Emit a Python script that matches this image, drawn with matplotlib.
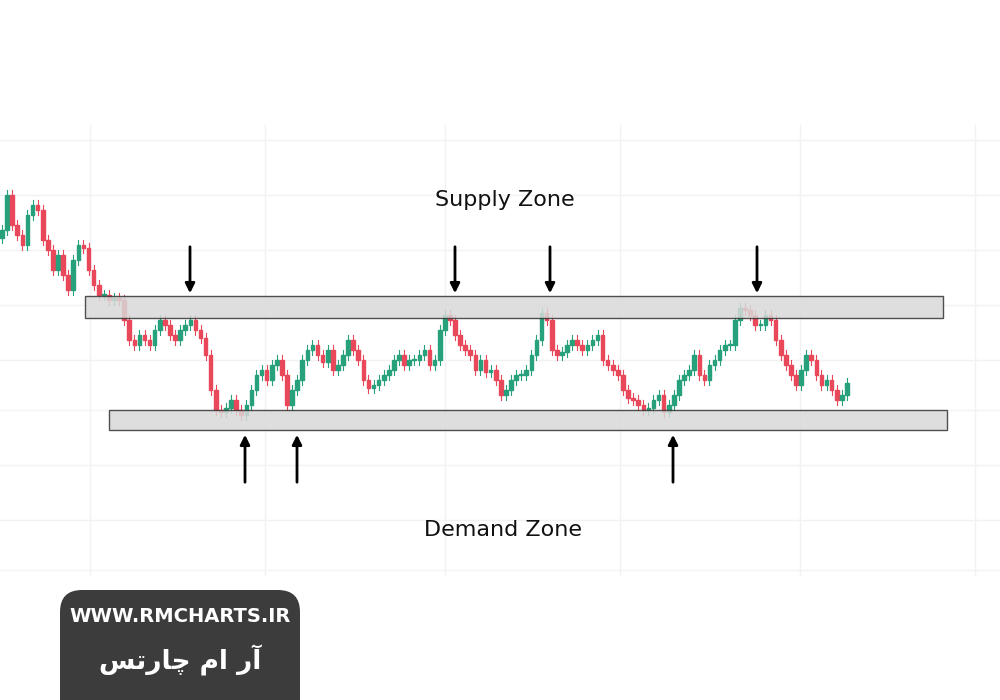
import numpy as np
import matplotlib.pyplot as plt
from matplotlib.patches import Rectangle, FancyBboxPatch

# close prices, one candle per step
closes = [270, 305, 275, 265, 255, 285, 295, 290, 260, 250, 230, 245, 225, 210, 240, 255, 252, 230, 215, 205,
          205, 200, 202, 200, 180, 160, 155, 165, 160, 155, 170, 180, 175, 165, 160, 170, 175, 180, 170, 162,
          145, 110, 90, 88, 92, 100, 90, 85, 95, 110, 125, 130, 120, 135, 140, 125, 95, 110, 120, 140,
          150, 155, 145, 138, 150, 130, 135, 145, 160, 150, 140, 120, 112, 115, 120, 125, 130, 140, 145, 135,
          140, 140, 145, 150, 135, 140, 170, 185, 180, 165, 155, 150, 145, 130, 140, 128, 130, 120, 105, 110,
          120, 125, 125, 130, 145, 160, 187, 180, 150, 145, 148, 155, 160, 155, 150, 155, 160, 165, 140, 135,
          130, 125, 110, 102, 100, 95, 90, 92, 100, 105, 88, 95, 105, 120, 125, 130, 145, 125, 120, 135,
          140, 150, 155, 155, 180, 192, 190, 185, 175, 175, 185, 180, 160, 145, 135, 125, 115, 130, 145, 140,
          125, 115, 120, 110, 100, 105, 117]
first_open = 262
wick = 5

supply_zone = (182, 204)
demand_zone = (70, 90)
supply_arrows = [190, 455, 550, 757]
demand_arrows = [245, 297, 673]

fig = plt.figure(figsize=(10, 7), dpi=100)
ax = fig.add_axes([0, 0, 1, 1])
ax.set_xlim(0, 1000)
ax.set_ylim(-200, 500)
ax.axis("off")

# faint grid over the chart area
for gx in [90, 265, 445, 620, 800, 975]:
    ax.plot([gx, gx], [-75, 375], color="#f2f2f2", lw=1, zorder=0)
for gy in [360, 305, 250, 195, 140, 90, 35, -20, -70]:
    ax.plot([0, 1000], [gy, gy], color="#f2f2f2", lw=1, zorder=0)

# candles
step = 850 / len(closes)
opens = [first_open] + closes[:-1]
for i, (o, c) in enumerate(zip(opens, closes)):
    x = 2 + step * i
    col = "#26a17b" if c >= o else "#e8485a"
    ax.plot([x, x], [min(o, c) - wick, max(o, c) + wick], color=col, lw=0.8, zorder=2)
    h = max(abs(c - o), 1.5)
    ax.add_patch(Rectangle((x - 1.8, min(o, c)), 3.6, h, color=col, zorder=3))

# zones
ax.add_patch(Rectangle((85, supply_zone[0]), 858, supply_zone[1] - supply_zone[0],
                       facecolor="#d9d9d9", edgecolor="#333333", lw=1, alpha=0.85, zorder=4))
ax.add_patch(Rectangle((109, demand_zone[0]), 838, demand_zone[1] - demand_zone[0],
                       facecolor="#d9d9d9", edgecolor="#333333", lw=1, alpha=0.85, zorder=4))

for ax_x in supply_arrows:
    ax.annotate("", xy=(ax_x, supply_zone[1]), xytext=(ax_x, supply_zone[1] + 52),
                arrowprops=dict(arrowstyle="-|>", color="black", lw=2, mutation_scale=14), zorder=5)
for ax_x in demand_arrows:
    ax.annotate("", xy=(ax_x, demand_zone[0] - 2), xytext=(ax_x, demand_zone[0] - 55),
                arrowprops=dict(arrowstyle="-|>", color="black", lw=2, mutation_scale=14), zorder=5)

ax.text(505, 300, "Supply Zone", fontsize=16, ha="center", va="center", color="#111111")
ax.text(503, -30, "Demand Zone", fontsize=16, ha="center", va="center", color="#111111")

# badge
ax.add_patch(FancyBboxPatch((60, -260), 240, 170, boxstyle="round,pad=0,rounding_size=22",
                            facecolor="#3c3c3c", edgecolor="none", zorder=6))
ax.text(180, -117, "WWW.RMCHARTS.IR", fontsize=14, fontweight="bold", color="white",
        ha="center", va="center", zorder=7)
persian = "\uFEB2\uFE97\uFEAD\uFE8E\uFB7C \uFEE1\uFE8D \uFEAD\uFE81"
ax.text(180, -160, persian, fontsize=19, fontweight="bold", color="white",
        ha="center", va="center", family=["DejaVu Sans"], zorder=7)

fig.savefig("out.png", dpi=100)
